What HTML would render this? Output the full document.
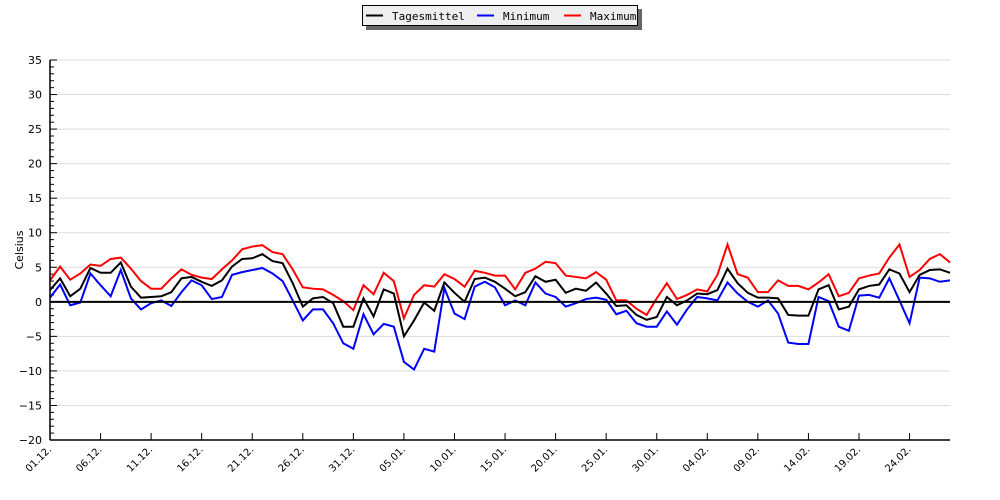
<!DOCTYPE html>
<html><head><meta charset="utf-8"><style>
body{margin:0;background:#fff;}
svg{display:block;font-family:"DejaVu Sans","Liberation Sans",sans-serif;}
</style></head><body>
<svg id="chart" width="1000" height="500"></svg>
<script>
const dayLabels=["01.12.","06.12.","11.12.","16.12.","21.12.","26.12.","31.12.","05.01.","10.01.","15.01.","20.01.","25.01.","30.01.","04.02.","09.02.","14.02.","19.02.","24.02."];
const yTicks=[-20,-15,-10,-5,0,5,10,15,20,25,30,35];
const meanVals=[1.7,3.4,0.8,1.9,4.9,4.2,4.2,5.7,2.2,0.6,0.7,0.8,1.4,3.4,3.6,2.9,2.3,3.1,5.1,6.2,6.3,6.9,5.9,5.6,2.7,-0.7,0.5,0.7,-0.2,-3.6,-3.6,0.5,-2.1,1.8,1.2,-5.0,-2.7,-0.1,-1.3,2.8,1.3,0,3.3,3.5,2.9,1.9,0.8,1.4,3.7,2.9,3.2,1.3,1.9,1.6,2.8,1.2,-0.6,-0.5,-1.9,-2.6,-2.2,0.7,-0.5,0.2,1.2,1.1,1.7,4.8,2.7,1.3,0.6,0.6,0.5,-1.9,-2.0,-2.0,1.8,2.4,-1.1,-0.7,1.8,2.3,2.5,4.7,4.1,1.4,3.9,4.6,4.7,4.2];
const minVals=[0.6,2.5,-0.5,-0.1,4.1,2.4,0.8,4.6,0.5,-1.1,-0.2,0.2,-0.6,1.4,3.1,2.4,0.4,0.7,3.9,4.3,4.6,4.9,4.1,3.0,0.2,-2.7,-1.1,-1.1,-3.1,-6.0,-6.8,-1.8,-4.7,-3.2,-3.6,-8.7,-9.8,-6.8,-7.2,2.0,-1.7,-2.5,2.2,2.9,2.1,-0.5,0.2,-0.5,2.8,1.2,0.7,-0.7,-0.2,0.4,0.6,0.3,-1.8,-1.3,-3.1,-3.6,-3.6,-1.4,-3.3,-1.1,0.7,0.5,0.2,2.8,1.2,0,-0.7,0.2,-1.7,-5.9,-6.1,-6.1,0.7,0.1,-3.6,-4.2,0.9,1.0,0.6,3.4,0.2,-3.1,3.5,3.4,2.9,3.1];
const maxVals=[3.1,5.1,3.2,4.1,5.4,5.2,6.2,6.4,4.8,3.0,1.9,1.9,3.4,4.7,3.9,3.5,3.3,4.7,6.0,7.6,8.0,8.2,7.2,6.9,4.7,2.1,1.9,1.8,1.0,0.1,-1.2,2.4,1.1,4.2,3.0,-2.4,1.0,2.4,2.2,4.0,3.3,2.2,4.5,4.2,3.8,3.8,1.8,4.2,4.8,5.8,5.6,3.8,3.6,3.4,4.3,3.2,0.2,0.2,-1.0,-1.9,0.5,2.7,0.4,1.0,1.8,1.5,3.9,8.3,4.0,3.5,1.4,1.4,3.1,2.3,2.3,1.8,2.8,4.0,0.8,1.3,3.4,3.8,4.1,6.4,8.3,3.6,4.6,6.2,6.9,5.7];

const NS="http://www.w3.org/2000/svg";
const svg=document.getElementById('chart');
const X0=50,X1=950,Y0=60,Y1=440,N=90;
const xs=i=>X0+i*(X1-X0)/(N-1);
const ys=v=>Y1-(v+20)*(Y1-Y0)/55;
function mk(t,a,p){const e=document.createElementNS(NS,t);for(const k in a)e.setAttribute(k,a[k]);(p||svg).appendChild(e);return e;}

// grid
for(const v of yTicks){
  if(v!==-20&&v!==0){const g=mk('line',{x1:X0,x2:X1,y1:ys(v),y2:ys(v),stroke:'#ddd','stroke-width':1});
  
  }
  const t=mk('text',{x:42,y:ys(v)+4,'text-anchor':'end','font-size':11,fill:'#000'});
  t.textContent=(v<0?'\u2212'+(-v):v);
  
  
}
for(let v=-20;v<=35;v++){
  const l=v%5===0?7:4;
  mk('line',{x1:X0,x2:X0+l,y1:ys(v),y2:ys(v),stroke:'#000','stroke-width':1});
}
dayLabels.forEach((lab,k)=>{
  const x=xs(k*5);
  mk('line',{x1:x,x2:x,y1:Y1,y2:Y1-7,stroke:'#000'});
  const t=mk('text',{x:x+2,y:Y1+10,'text-anchor':'end','font-size':10,transform:`rotate(-45 ${x+2} ${Y1+10})`});
  t.textContent=lab;
  
  
});
const yt=mk('text',{x:23,y:250,'text-anchor':'middle','font-size':11,transform:'rotate(-90 23 250)'});
yt.textContent='Celsius';



function series(vals,color,name){
  const p=mk('polyline',{points:vals.map((v,i)=>xs(i)+','+ys(v)).join(' '),fill:'none',stroke:color,'stroke-width':2,'stroke-linejoin':'miter'});
  
  
}
series(maxVals,'#f00','maximum-line');
series(minVals,'#00f','minimum-line');
series(meanVals,'#000','tagesmittel-line');
const z=mk('line',{x1:X0,x2:X1,y1:ys(0),y2:ys(0),stroke:'#000','stroke-width':2});


mk('line',{x1:X0,x2:X0,y1:Y0,y2:Y1,stroke:'#000','stroke-width':1.5});
mk('line',{x1:X0,x2:X1,y1:Y1,y2:Y1,stroke:'#000','stroke-width':1.5});

// legend
const lg=mk('g',{});


mk('rect',{x:366,y:9,width:276,height:21,fill:'#666'},lg);
mk('rect',{x:362.5,y:5.5,width:275,height:20,fill:'#eee',stroke:'#000'},lg);
[['Tagesmittel','#000',366],['Minimum','#00f',477],['Maximum','#f00',564]].forEach(([n,c,x])=>{
  const e=mk('g',{},lg);
  
  
  mk('line',{x1:x,x2:x+17,y1:15.5,y2:15.5,stroke:c,'stroke-width':2},e);
  const t=mk('text',{x:x+26,y:20,'font-size':11,'font-family':'"DejaVu Sans Mono","Liberation Mono",monospace'},e);
  t.textContent=n;
});
</script>
</body></html>
